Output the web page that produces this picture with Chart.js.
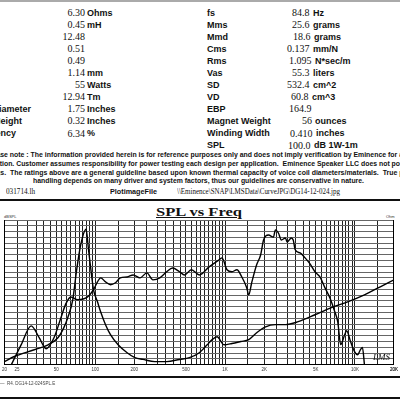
<!DOCTYPE html>
<html>
<head>
<meta charset="utf-8">
<script src="https://cdn.jsdelivr.net/npm/chart.js@4.4.1/dist/chart.umd.min.js"></script>
<style>
html, body { margin: 0; padding: 0; background: #fff; }
#page { position: relative; width: 400px; height: 400px; overflow: hidden; background: #fff; color: #111; }
.t { position: absolute; white-space: pre; line-height: 1; }
.lab { font: bold 9px "Liberation Sans", Arial, sans-serif; }
.num { font: 10px "Liberation Serif", "Times New Roman", serif; }
.unit { font: bold 9px "Liberation Sans", Arial, sans-serif; }
.note { font: bold 7px "Liberation Sans", Arial, sans-serif; }
.rule { position: absolute; left: 0; width: 400px; background: #111; }
#chartBox { position: absolute; left: 0; top: 214px; width: 400px; height: 166px; }
</style>
</head>
<body>
<div id="page">
  <div class="rule" style="top:0;height:2px;background:#aaa"></div>

  <div id="table"></div>

  <div class="t note" id="n1" style="top:151px">Plea<span class="v">se note : The information provided herein is for reference purposes only and does not imply verification by Eminence for</span> any</div>
  <div class="t note" id="n2" style="top:160px">applicat<span class="v">ion. Customer assumes responsibility for power testing each design per application.  Eminence Speaker LLC does not po</span>st</div>
  <div class="t note" id="n3" style="top:169px">rating<span class="v">s.  The ratings above are a general guideline based upon known thermal capacity of voice coil diameters/materials.  True</span> power</div>
  <div class="t note" id="n4" style="top:177px"><span class="v">handling depends on many driver and system factors, thus our guidelines are conservative in nature.</span></div>

  <div class="t num" id="p1" style="top:187px;font-size:8px">031714.lh</div>
  <div class="t unit" id="p2" style="top:187px;font-size:8px">PlotimageFile</div>
  <div class="t num" id="p3" style="top:187px;font-size:8px">\\Eminence\SNAP\LMSData\CurveJPG\DG14-12-024.jpg</div>

  <div class="rule" style="top:199px;height:2px"></div>

  <div class="t" id="title" style="top:204px;font:bold 13px 'Liberation Serif',serif;text-decoration:underline">SPL vs Freq</div>
  <div class="t" style="left:4px;top:214px;font:4px 'Liberation Sans',sans-serif;color:#333">dBSPL</div>
  <div class="t" style="left:386px;top:214px;font:4px 'Liberation Sans',sans-serif;color:#333">Ohm</div>

  <div id="chartBox"><canvas id="splChart"></canvas></div>

  <div class="t" style="left:373px;top:352px;font:italic 9px 'Liberation Serif',serif">LMS</div>

  <div class="rule" style="top:376px;height:2px"></div>
  <div class="t" style="left:0;top:381px;font:4.5px 'Liberation Sans',sans-serif;color:#444">—  R4. DG14-12-024SPL.E</div>
  <div class="rule" style="top:397px;height:2px"></div>
</div>

<script>
// SPL curve (Hz, dB)
var splFreq = [22.6, 26.9, 32.1, 37.0, 41.8, 48.1, 54.4, 59.3, 64.8, 73.2, 87.3, 97, 104, 110, 120, 131, 143, 156, 176, 196,
    221, 250, 278, 314, 355, 394, 446, 487, 550, 633, 754, 899, 948, 1034, 1129, 1233, 1346, 1468, 1521, 1603,
    1750, 1878, 1979, 2160, 2358, 2442, 2575, 2714, 2910, 3014, 3234, 3349, 3468, 3786, 4134, 4512, 4927, 5378, 5870, 6409,
    6998, 7376, 7773, 8337, 8634, 9264, 9936, 10470, 11040, 11430, 11840];
var splDb = [70, 76.9, 83.4, 79.3, 75.5, 79.3, 86.2, 91.0, 93.4, 92.4, 93.4, 95.9, 98.6, 100.0, 98.6, 97.6, 98.3, 100.0, 100.3, 101.0,
    100.0, 101.7, 99.3, 100.0, 102.1, 103.4, 102.1, 101.0, 102.8, 101.0, 103.8, 106.2, 106.9, 102.8, 102.1, 102.8, 100.3, 96.6, 94.1, 98.3,
    104.5, 107.9, 113.1, 114.8, 114.1, 116.6, 115.5, 113.1, 113.8, 112.4, 113.8, 113.1, 109.7, 108.6, 106.9, 104.8, 102.1, 100.3, 96.6, 93.1,
    88.3, 84.8, 76.9, 80.3, 81.7, 77.9, 74.5, 73.4, 75.2, 75.9, 70];

// impedance curve (Hz, Ohm)
var impFreq = [20, 23.8, 33.9, 43.3, 51.6, 57.3, 61.4, 67.1, 71.9, 77.2, 85, 88.8, 93.6, 97, 104, 110, 120, 131, 150, 176,
    202, 233, 288, 355, 446, 531, 633, 728, 795, 868, 981, 1129, 1322, 1521, 1750, 2050, 2442, 2910, 3656, 4927,
    6521, 8787, 11840, 15680, 20000];
var impOhm = [6.45, 7.3, 8.6, 9.7, 11.5, 14.7, 18.7, 28.9, 59.7, 109, 160, 96.8, 52.9, 36.8, 27.5, 21.6, 15.8, 12.4, 9.7, 8.0,
    7.1, 6.8, 6.45, 6.45, 6.8, 7.1, 8.0, 9.7, 11.0, 11.8, 9.7, 10.0, 10.5, 11.0, 13.0, 15.0, 15.8, 15.8, 17.0, 20.1,
    23.8, 27.5, 32.6, 39.6, 46.9];

// x tick labels
var freqTicks = [20, 25, 50, 100, 200, 500, 1000, 2000, 5000, 10000, 20000];
var freqTickLabels = ['20', '25', '50', '100', '200', '500', '1K', '2K', '5K', '10K', '20K'];

// parameter table
var leftRows = [
    ['Re', '6.30', 'Ohms'], ['Le', '0.45', 'mH'], ['Qms', '12.48', ''], ['Qes', '0.51', ''], ['Qts', '0.49', ''],
    ['Xmax', '1.14', 'mm'], ['Pe', '55', 'Watts'], ['BL', '12.94', 'Tm'], ['Voice Coil Diameter', '1.75', 'Inches'],
    ['Voice Coil Height', '0.32', 'Inches'], ['Efficiency', '6.34', '%']
];
var rightRows = [
    ['fs', '84.8', 'Hz'], ['Mms', '25.6', 'grams'], ['Mmd', '18.6', 'grams'], ['Cms', '0.137', 'mm/N'],
    ['Rms', '1.095', 'N*sec/m'], ['Vas', '55.3', 'liters'], ['SD', '532.4', 'cm^2'], ['VD', '60.8', 'cm^3'],
    ['EBP', '164.9', ''], ['Magnet Weight', '56', 'ounces'], ['Winding Width', '0.410', 'inches'], ['SPL', '100.0', 'dB 1W-1m']
];

var labelEnds = [-20, -20, -20, -20, -20, -20, -20, -20, 31, 22, 16];
var rightValX = [292, 292, 293, 287, 289, 292, 287, 291, 289, 302, 290, 288];

var html = '';
leftRows.forEach(function (r, i) {
    var top = 12 + 12.05 * i - 5;
    html += '<div class="t lab" style="top:' + (top + 0.5) + 'px;right:' + (400 - labelEnds[i]) + 'px">' + r[0] + '</div>';
    html += '<div class="t num" style="top:' + top + 'px;right:315px">' + r[1] + '</div>';
    if (r[2]) html += '<div class="t unit" style="top:' + (top + 0.5) + 'px;left:87px">' + r[2] + '</div>';
});
rightRows.forEach(function (r, i) {
    var top = 12 + 12.05 * i - 5;
    html += '<div class="t lab" style="top:' + (top + 0.5) + 'px;left:207px">' + r[0] + '</div>';
    html += '<div class="t num" style="top:' + top + 'px;left:' + rightValX[i] + 'px">' + r[1] + '</div>';
    if (r[2]) html += '<div class="t unit" id="u' + i + '" style="top:' + (top + 0.5) + 'px;left:0px">' + r[2] + '</div>';
});
document.getElementById('table').innerHTML = html;

// put each right-column unit just after its number
var nums = document.querySelectorAll('#table .num');
rightRows.forEach(function (r, i) {
    var u = document.getElementById('u' + i);
    if (!u) return;
    var n = nums[leftRows.length + i];
    u.style.left = (n.offsetLeft + n.offsetWidth + 3) + 'px';
});

// stretch a line so its marked part spans x0..x1
function fit(id, x0, x1) {
    var el = document.getElementById(id);
    var v = el.querySelector('.v') || el;
    el.style.left = '0px';
    var w = v.getBoundingClientRect().width;
    var off = v === el ? 0 : v.offsetLeft;
    var s = (x1 - x0) / w;
    el.style.transformOrigin = '0 0';
    el.style.transform = 'scaleX(' + s + ')';
    el.style.left = (x0 - off * s) + 'px';
}
fit('n1', 0, 397);
fit('n2', 2, 400);
fit('n3', 0, 397);
fit('n4', 33, 364);
fit('p1', 6, 35);
fit('p2', 110, 157);
fit('p3', 177, 340);
fit('title', 156, 242);

// vertical grid: 1, 1.5, 2 ... 9.5 in each decade
var gridFreqs = [];
for (var d = 10; d <= 10000; d *= 10) {
    for (var k = 2; k < 20; k++) {
        var f = k * 0.5 * d;
        if (f >= 20 && f <= 20000) gridFreqs.push(f);
    }
}
gridFreqs.push(20000);

function toPoints(xs, ys) {
    return xs.map(function (x, i) { return { x: x, y: ys[i] }; });
}

var ctx = document.getElementById('splChart').getContext('2d');
new Chart(ctx, {
    type: 'line',
    data: {
        datasets: [{
            label: 'SPL',
            data: toPoints(splFreq, splDb),
            borderColor: '#000',
            borderWidth: 1.4,
            pointRadius: 0,
            cubicInterpolationMode: 'monotone',
            yAxisID: 'y'
        }, {
            label: 'Impedance',
            data: toPoints(impFreq, impOhm),
            borderColor: '#000',
            borderWidth: 1.4,
            pointRadius: 0,
            cubicInterpolationMode: 'monotone',
            yAxisID: 'y2'
        }]
    },
    options: {
        responsive: true,
        maintainAspectRatio: false,
        animation: false,
        layout: { padding: { left: 3, right: 3, top: 6, bottom: 6 } },
        plugins: { legend: { display: false }, tooltip: { enabled: false } },
        scales: {
            x: {
                type: 'logarithmic',
                min: 20,
                max: 20000,
                afterBuildTicks: function (scale) {
                    scale.ticks = gridFreqs.map(function (v) { return { value: v }; });
                },
                ticks: {
                    autoSkip: false,
                    maxRotation: 0,
                    padding: 2,
                    color: '#333',
                    font: { size: 4.5, family: 'Liberation Sans' },
                    callback: function (value) {
                        var i = freqTicks.indexOf(value);
                        return i >= 0 ? freqTickLabels[i] : '';
                    }
                },
                grid: { color: '#222', lineWidth: 1, drawTicks: false },
                border: { color: '#000', width: 1 }
            },
            y: {
                position: 'left',
                min: 70,
                max: 120,
                ticks: { display: false, stepSize: 2 },
                grid: { color: '#666', lineWidth: 1, drawTicks: false },
                border: { color: '#000', width: 1 }
            },
            y2: {
                type: 'logarithmic',
                position: 'right',
                min: 6,
                max: 200,
                ticks: { display: false },
                grid: { drawOnChartArea: false, drawTicks: false },
                border: { color: '#000', width: 1 }
            }
        }
    }
});
</script>
</body>
</html>
